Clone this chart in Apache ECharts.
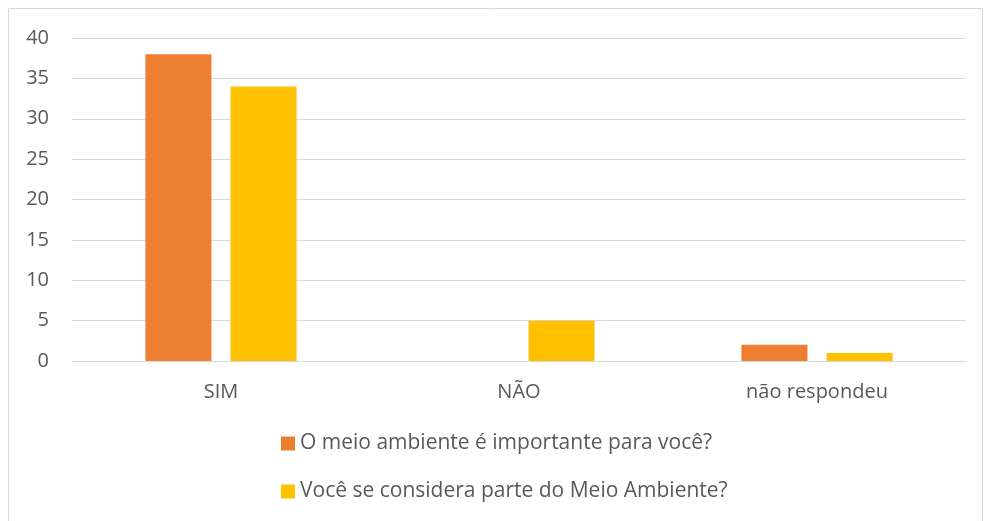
<!DOCTYPE html>
<html>
<head>
<meta charset="utf-8">
<script src="https://cdn.jsdelivr.net/npm/echarts@6/dist/echarts.min.js"></script>
<style>
  html, body { margin: 0; padding: 0; background: #fff; }
  #chart { width: 985px; height: 521px; }
</style>
</head>
<body>
<div id="chart"></div>
<script>
const categories = ['SIM', 'NÃO', 'não respondeu']
const importante = [38, 0, 2]
const parteMeio = [34, 5, 1]
const seriesNames = ['O meio ambiente é importante para você?', 'Você se considera parte do Meio Ambiente?']

const fontFamily = '"Open Sans", "Noto Sans", sans-serif'
const labelColor = '#595959'

const chart = echarts.init(document.getElementById('chart'))
chart.setOption({
  animation: false,
  textStyle: { fontFamily: fontFamily },
  graphic: [
    {
      type: 'rect',
      shape: { x: 8.5, y: 8.5, width: 974, height: 540 },
      style: { fill: 'none', stroke: '#d9d9d9', lineWidth: 1 },
      silent: true,
    },
  ],
  grid: {
    left: 72,
    right: 19,
    top: 38,
    bottom: 160,
    containLabel: false,
  },
  legend: {
    orient: 'vertical',
    left: 281,
    top: 433,
    padding: 0,
    itemWidth: 14,
    itemHeight: 14,
    itemGap: 27,
    icon: 'rect',
    textStyle: { color: labelColor, fontSize: 21, fontFamily: fontFamily },
    data: seriesNames,
  },
  xAxis: {
    type: 'category',
    data: categories,
    axisLine: { lineStyle: { color: '#d9d9d9', width: 1 } },
    axisTick: { show: false },
    axisLabel: { color: labelColor, fontSize: 20, margin: 21 },
  },
  yAxis: {
    type: 'value',
    min: 0,
    max: 40,
    interval: 5,
    axisLine: { show: false },
    axisTick: { show: false },
    axisLabel: { color: labelColor, fontSize: 20, margin: 23 },
    splitLine: { lineStyle: { color: '#d9d9d9', width: 1 } },
  },
  series: [
    {
      name: seriesNames[0],
      type: 'bar',
      barWidth: 66,
      barGap: '29%',
      itemStyle: { color: '#ED7D31' },
      data: importante,
    },
    {
      name: seriesNames[1],
      type: 'bar',
      barWidth: 66,
      itemStyle: { color: '#FFC000' },
      data: parteMeio,
    },
  ],
})
</script>
</body>
</html>
